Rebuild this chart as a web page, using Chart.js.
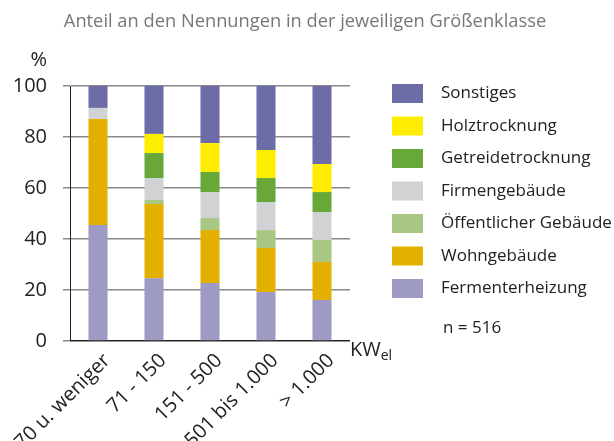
<!DOCTYPE html>
<html>
<head>
<meta charset="utf-8">
<script src="https://cdn.jsdelivr.net/npm/chart.js@4/dist/chart.umd.min.js"></script>
<style>
  html, body { margin: 0; padding: 0; background: #fff; }
  canvas { display: block; }
</style>
</head>
<body>
<canvas id="chart" width="614" height="441"></canvas>
<script>
const categories = ['70 u. weniger', '71 - 150', '151 - 500', '501 bis 1.000', '> 1.000'];

// values in %, bottom to top of each stack
const fermenterheizung = [45.5, 24.6, 22.7, 19.2, 16.1];
const wohngebaeude = [41.6, 29.1, 20.8, 17.3, 14.9];
const oeffentlich = [0, 1.6, 4.7, 7.0, 8.6];
const firmengebaeude = [4.3, 8.6, 10.2, 11.0, 11.0];
const getreidetrocknung = [0, 9.8, 7.9, 9.4, 7.8];
const holztrocknung = [0, 7.5, 11.3, 11.0, 11.0];
const sonstiges = [8.6, 18.8, 22.4, 25.1, 30.6];

const yTicks = [0, 20, 40, 60, 80, 100];

const FONT = '"Open Sans", "DejaVu Sans", sans-serif';

const series = [
  { label: 'Fermenterheizung', data: fermenterheizung, color: '#9d9bc4' },
  { label: 'Wohngebäude', data: wohngebaeude, color: '#e3b000' },
  { label: 'Öffentlicher Gebäude', data: oeffentlich, color: '#a7c783' },
  { label: 'Firmengebäude', data: firmengebaeude, color: '#d1d2d4' },
  { label: 'Getreidetrocknung', data: getreidetrocknung, color: '#67a839' },
  { label: 'Holztrocknung', data: holztrocknung, color: '#ffed00' },
  { label: 'Sonstiges', data: sonstiges, color: '#6c6ca6' },
];

const datasets = series.map(s => ({
  label: s.label,
  data: s.data,
  backgroundColor: s.color,
  borderWidth: 0,
  barPercentage: 0.34,
  categoryPercentage: 1,
}));

// title, axis unit labels, legend and sample size
const extras = {
  id: 'extras',
  afterDraw(chart) {
    const c = chart.ctx;
    c.save();
    c.textBaseline = 'middle';

    c.fillStyle = '#777';
    c.font = '18.3px ' + FONT;
    c.textAlign = 'center';
    c.fillText('Anteil an den Nennungen in der jeweiligen Größenklasse', 305, 22);

    c.fillStyle = '#222';
    c.font = '20px ' + FONT;
    c.textAlign = 'right';
    c.fillText('%', 47, 60);

    c.textAlign = 'left';
    c.fillText('KW', 350, 350);
    const w = c.measureText('KW').width;
    c.font = '14px ' + FONT;
    c.fillText('el', 350 + w, 356);

    const ds = chart.data.datasets.slice().reverse();
    c.font = '17px ' + FONT;
    ds.forEach((d, i) => {
      const y = 93.5 + i * 32.5;
      c.fillStyle = d.backgroundColor;
      c.fillRect(392, y - 9.5, 31, 19);
      c.fillStyle = '#222';
      c.fillText(d.label, 441, y);
    });
    c.fillText('n = 516', 443, 328);
    c.restore();
  }
};

new Chart(document.getElementById('chart'), {
  type: 'bar',
  data: { labels: categories, datasets },
  options: {
    responsive: false,
    animation: false,
    devicePixelRatio: 1,
    layout: { padding: { top: 86, right: 264, left: 0, bottom: 0 } },
    plugins: { legend: { display: false }, tooltip: { enabled: false } },
    scales: {
      x: {
        stacked: true,
        grid: { display: false },
        border: { display: false },
        ticks: {
          minRotation: 45,
          maxRotation: 45,
          color: '#222',
          padding: 0,
          labelOffset: 9,
          font: { family: FONT, size: 20 },
        },
        afterFit: s => { s.height = 100; },
      },
      y: {
        stacked: true,
        min: 0,
        max: 100,
        afterBuildTicks: s => { s.ticks = yTicks.map(v => ({ value: v })); },
        grid: {
          color: ctx => ctx.tick && ctx.tick.value === 0 ? '#222' : '#8a8a8a',
          lineWidth: 1.5,
          tickLength: 7,
          tickColor: '#8a8a8a',
        },
        border: { display: true, color: '#222', width: 1 },
        ticks: {
          color: '#222',
          padding: 16,
          font: { family: FONT, size: 20 },
        },
        afterFit: s => { s.width = 70; },
      },
    },
  },
  plugins: [extras],
});
</script>
</body>
</html>
